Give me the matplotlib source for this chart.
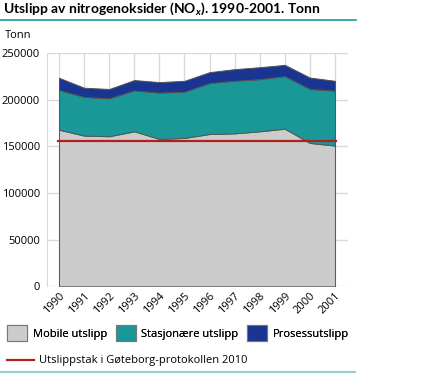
import numpy as np
import matplotlib.pyplot as plt
from matplotlib.patches import Patch
from matplotlib.lines import Line2D

plt.rcParams['font.family'] = ['Open Sans', 'DejaVu Sans']
plt.rcParams['mathtext.fontset'] = 'custom'
plt.rcParams['mathtext.rm'] = 'Lato:bold'
plt.rcParams['mathtext.it'] = 'Lato:bold:italic'

years = list(range(1990, 2002))
mobile = [168000, 161700, 161000, 166300, 158100, 159200, 163400, 164100, 166300, 169100, 153800, 151000]
stasjon_top = [210600, 203200, 201700, 210200, 207800, 208800, 218100, 220500, 222300, 225500, 211700, 209900]
prosess_top = [223700, 213100, 211700, 221300, 219100, 220500, 229800, 233000, 235100, 237600, 224000, 220500]
utslippstak = 156000

stasjon = [s - m for s, m in zip(stasjon_top, mobile)]
prosess = [p - s for p, s in zip(prosess_top, stasjon_top)]

labels = ["Mobile utslipp", "Stasjonære utslipp", "Prosessutslipp"]
colors = ["#cccccc", "#1a9898", "#1a3591"]
line_label = "Utslippstak i Gøteborg-protokollen 2010"

fig = plt.figure(figsize=(4.44, 3.74), dpi=100)
ax = fig.add_axes([47/444, 1 - 286.3/374, 301/444, 233/374])

ax.stackplot(years, mobile, stasjon, prosess, colors=colors,
             edgecolor="#555555", linewidth=0.7, zorder=2)
ax.plot([years[0] - 0.05, years[-1] + 0.05], [utslippstak, utslippstak],
        color="#b3201c", linewidth=1.6, zorder=3)

ax.set_xlim(1989.52, 2001.52)
ax.set_ylim(0, 250000)
ax.set_yticks(range(0, 250001, 50000))
ax.set_xticks(years)
ax.set_xticklabels([str(y) for y in years], rotation=45, ha="right",
                   va="top", rotation_mode="anchor", fontsize=8)
ax.tick_params(axis="y", labelsize=8, length=0, pad=5)
ax.tick_params(axis="x", length=0, pad=3)
ax.grid(True, color="#d9d9d9", linewidth=1, zorder=0)
ax.set_axisbelow(True)
for side in ["top", "right", "bottom"]:
    ax.spines[side].set_visible(False)
ax.spines["left"].set_color("#d9d9d9")

# title + decoration
fig.text(3/444, 1 - 9/374, "Utslipp av nitrogenoksider ($\\mathrm{NO}_{x}$). 1990-2001. Tonn",
         fontsize=10, fontweight="bold", va="center", ha="left",
         family=["Lato", "DejaVu Sans"])
fig.add_artist(Line2D([0, 356/444], [1 - 20/374, 1 - 20/374], color="#1a9898", linewidth=1.2))
fig.add_artist(Line2D([0, 355/444], [1 - 372/374, 1 - 372/374], color="#8ecfcf", linewidth=1.5))
fig.text(5/444, 1 - 35/374, "Tonn", fontsize=8, va="center", ha="left")

handles = [Patch(facecolor=c, edgecolor="#777777", linewidth=0.8) for c in colors]
leg1 = fig.legend(handles, labels, loc="center left", bbox_to_anchor=(7/444, 1 - 333/374),
                  ncol=3, frameon=False, fontsize=8, handlelength=1.8, handleheight=1.8,
                  columnspacing=0.8, handletextpad=0.5, borderpad=0, borderaxespad=0)
fig.legend([Line2D([0], [0], color="#b3201c", linewidth=1.6)], [line_label],
           loc="center left", bbox_to_anchor=(7/444, 1 - 361/374), frameon=False, fontsize=8,
           handlelength=2.4, handletextpad=0.5, borderpad=0, borderaxespad=0)
fig.add_artist(leg1)

plt.savefig("out.png", dpi=100)
